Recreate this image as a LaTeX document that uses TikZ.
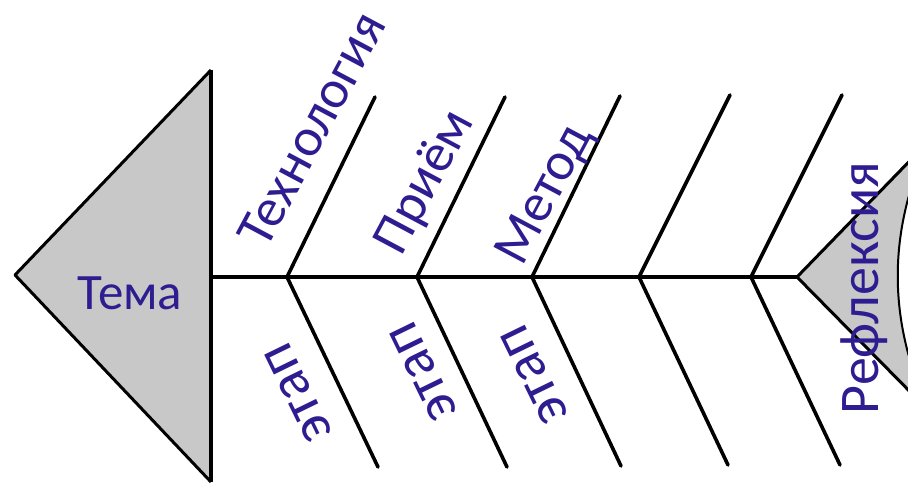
\documentclass[tikz,border=0pt]{standalone}
\usepackage{fontspec}
\setmainfont{Carlito}
\definecolor{txtblue}{RGB}{46,28,145}
\definecolor{fishgray}{RGB}{200,200,200}
\begin{document}
\begin{tikzpicture}[x=1pt,y=-1pt,
  bone/.style={line width=3.6pt,line cap=round},
  edge/.style={line width=3pt,line join=round},
  lbl/.style={text=txtblue,inner sep=0pt},
  fs/.style={font=\fontsize{#1}{#1}\selectfont}]
\useasboundingbox (0,0) rectangle (908,486);
% tail
\coordinate (tip) at (797,277);
\coordinate (tU) at (930,140);
\coordinate (tD) at (930,412);
\begin{scope}
\clip (0,0) rectangle (908,486);
\fill[fishgray] (tip) -- (tU) .. controls (887,230) and (887,322) .. (tD) -- cycle;
\draw[edge] (tU) -- (tip) -- (tD);
\draw[line width=2pt] (tU) .. controls (887,230) and (887,322) .. (tD);
\end{scope}
% head
\coordinate (hL) at (15,275);
\coordinate (hT) at (211,70);
\coordinate (hB) at (211,482);
\coordinate (s0) at (211,277);
\fill[fishgray] (hL) -- (hT) -- (hB) -- cycle;
\draw[edge] (hT) -- (hL) -- (hB);
\draw[line width=4pt] (hT) -- (hB);
% spine
\draw[line width=3.6pt] (s0) -- (tip);
% bones
\foreach \i/\jx/\ux/\uy/\dx/\dy in {1/287/375/97/378/467, 2/417/505/97/507/467, 3/532/620/96/621/466, 4/639/730/95/728/465, 5/751/842/95/840/465}{
  \coordinate (j\i) at (\jx,277);
  \coordinate (u\i) at (\ux,\uy);
  \coordinate (d\i) at (\dx,\dy);
  \draw[bone] (j\i) -- (u\i);
  \draw[bone] (j\i) -- (d\i);
}
% labels
\node[lbl,fs=51] (tema) at (130,293) {Тема};
\node[lbl,fs=54,rotate=62] (tech) at (312,129) {Технология};
\node[lbl,fs=54,rotate=62] (priem) at (426,183) {Приём};
\node[lbl,fs=54,rotate=62] (metod) at (546,195) {Метод};
\node[lbl,fs=57,rotate=116] (e1) at (298,393) {этап};
\node[lbl,fs=57,rotate=116] (e2) at (423,372) {этап};
\node[lbl,fs=57,rotate=116] (e3) at (534,375) {этап};
\node[lbl,fs=56,rotate=90] (refl) at (864,288) {Рефлексия};
\end{tikzpicture}
\end{document}
